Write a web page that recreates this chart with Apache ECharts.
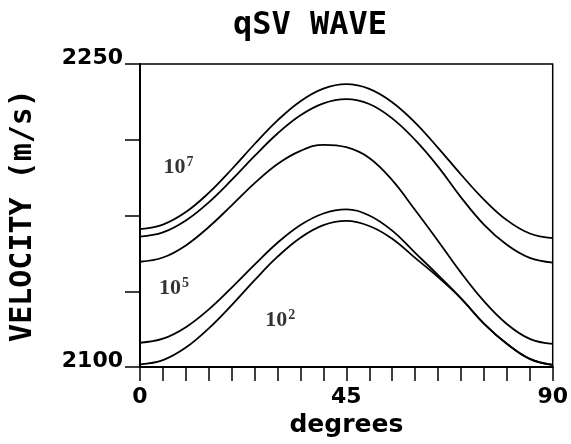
<!DOCTYPE html>
<html>
<head>
<meta charset="utf-8">
<script src="https://cdn.jsdelivr.net/npm/echarts@6/dist/echarts.min.js"></script>
<style>
html,body{margin:0;padding:0;background:#fff;}
#main{width:571px;height:444px;}
</style>
</head>
<body>
<div id="main"></div>
<script>
// angle in degrees
const degrees = [0,5,10,15,20,25,30,35,40,45,50,55,60,65,70,75,80,85,90];
// velocity curves (m/s)
const curveA = [2168.3,2170.5,2176.7,2186.2,2197.9,2210.4,2222.1,2231.6,2237.8,2240,2237.7,2231.1,2221,2208.5,2195.3,2182.9,2172.7,2166.1,2163.8];
const curveB = [2164.5,2166.6,2172.5,2181.5,2192.6,2204.5,2215.6,2224.6,2230.5,2232.6,2230.2,2223.1,2212.4,2199.2,2184,2170.5,2160.5,2154,2151.7];
const curveC = [2152.1,2154.2,2160.2,2169.3,2180,2191,2200.5,2207,2210,2208.8,2203.5,2192.5,2177.7,2162.4,2146.7,2132.6,2121.3,2113.9,2111.4];
const curveD = [2112,2114,2119.7,2128.5,2139.3,2150.7,2161.5,2170.3,2176,2178,2175,2167.5,2156.5,2145.5,2134,2121.5,2111.5,2104,2101];
const curveE = [2101.3,2103.4,2109.6,2119.1,2130.6,2143,2154.6,2164,2170.2,2172.3,2169.8,2163.5,2154,2144.5,2134,2121.5,2111.5,2104,2101];
// annotations: [deg, velocity, base, exponent]
const annotations = [[8.4,2199,'10','7'],[7.4,2139,'10','5'],[30.6,2123.3,'10','2']];
const xTickLabels = [0,45,90];
const yTickLabels = [2100,2250];

function pairs(vals){ return degrees.map((d,i)=>[d,vals[i]]); }
const lineStyle = {color:'#000', width:1.8};
const curves = [curveA,curveB,curveC,curveD,curveE].map(v=>({
  type:'line', data:pairs(v), smooth:0.4, showSymbol:false, symbol:'none',
  lineStyle:lineStyle, z:3
}));

const chart = echarts.init(document.getElementById('main'));
chart.setOption({
  animation:false,
  backgroundColor:'#fff',
  title:{
    text:'qSV WAVE', left:305, top:5, textAlign:'center',
    textStyle:{fontFamily:'DejaVu Sans Mono', fontWeight:'bold', fontSize:32, color:'#000'}
  },
  grid:{left:137, right:10, top:64, bottom:77, show:true, borderColor:'#000', borderWidth:1.5, backgroundColor:'transparent'},
  xAxis:{
    type:'value', min:0, max:90, interval:5,
    name:'degrees', nameLocation:'middle', nameGap:44,
    nameTextStyle:{fontFamily:'DejaVu Sans', fontWeight:'bold', fontSize:25, color:'#000', letterSpacing:1},
    axisLine:{show:true, lineStyle:{color:'#000', width:2}},
    axisTick:{show:true, length:14, lineStyle:{color:'#000', width:1.5}},
    axisLabel:{
      margin:19, fontFamily:'DejaVu Sans', fontWeight:'bold', fontSize:22, color:'#000',
      formatter:v=> xTickLabels.indexOf(v)>=0 ? String(v) : ''
    },
    splitLine:{show:false}
  },
  yAxis:{
    type:'value', min:2100, max:2250, interval:37.5,
    name:'VELOCITY (m/s)', nameLocation:'middle', nameGap:102, nameRotate:90,
    nameTextStyle:{fontFamily:'DejaVu Sans Mono', fontWeight:'bold', fontSize:30, color:'#000'},
    axisLine:{show:true, lineStyle:{color:'#000', width:2}},
    axisTick:{show:true, length:15, lineStyle:{color:'#000', width:1.5}},
    axisLabel:{
      margin:17, fontFamily:'DejaVu Sans', fontWeight:'bold', fontSize:22, color:'#000',
      verticalAlign:'bottom', lineHeight:12,
      formatter:v=> yTickLabels.indexOf(v)>=0 ? String(v) : ''
    },
    splitLine:{show:false}
  },
  series: curves.concat([{
    type:'scatter', symbolSize:0, z:5,
    data:annotations.map(a=>({value:[a[0],a[1]], base:a[2], exp:a[3]})),
    label:{
      show:true, position:'inside',
      formatter:p=>'{b|'+p.data.base+'}{s|'+p.data.exp+'}',
      rich:{
        b:{fontFamily:'Liberation Serif', fontWeight:'bold', fontSize:22, color:'#000', verticalAlign:'bottom'},
        s:{fontFamily:'Liberation Serif', fontWeight:'bold', fontSize:14, color:'#000', verticalAlign:'top', padding:[0,0,9,1]}
      }
    }
  }])
});
</script>
</body>
</html>
